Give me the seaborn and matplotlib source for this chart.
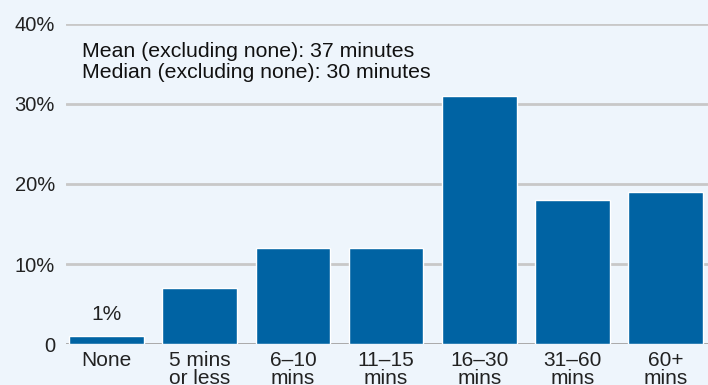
import matplotlib
matplotlib.use("Agg")
import matplotlib.pyplot as plt
import seaborn as sns
import pandas as pd

categories = ["None", "5 mins\nor less", "6\u201310\nmins", "11\u201315\nmins",
              "16\u201330\nmins", "31\u201360\nmins", "60+\nmins"]
shares = [1, 7, 12, 12, 31, 18, 19]
y_ticks = [0, 10, 20, 30, 40]
y_tick_labels = ["0", "10%", "20%", "30%", "40%"]
notes = ["Mean (excluding none): 37 minutes", "Median (excluding none): 30 minutes"]

bg = "#eef5fc"
bar_color = "#0063a3"

sns.set_theme(style="white")
plt.rcParams["font.family"] = ["Liberation Sans", "DejaVu Sans"]

df = pd.DataFrame({"category": categories, "share": shares})

fig = plt.figure(figsize=(7.08, 3.85), dpi=100, facecolor=bg)
ax = fig.add_axes([66 / 708, 1 - 344 / 385, 642 / 708, 320 / 385])
ax.set_facecolor(bg)

sns.barplot(data=df, x="category", y="share", color=bar_color, width=0.8,
            saturation=1, ax=ax, zorder=3)

ax.set_ylim(0, 40)
ax.set_xlim(-0.435, 6.455)
ax.set_yticks(y_ticks)
ax.set_yticklabels(y_tick_labels)
ax.yaxis.grid(True, color="#c8c8c8", linewidth=2, zorder=0)
ax.set_axisbelow(True)
for s in ax.spines.values():
    s.set_visible(False)
ax.axhline(0, color="#a8a8a8", linewidth=2, zorder=2)

ax.tick_params(axis="y", length=0, pad=8, labelsize=14.5, labelcolor="#222222")
ax.tick_params(axis="x", length=0, pad=5, labelsize=15, labelcolor="#222222")
for lbl in ax.get_xticklabels():
    lbl.set_linespacing(0.92)
ax.set_xlabel("")
ax.set_ylabel("")

# value label on the smallest bar
ax.text(0, shares[0] + 1.5, f"{shares[0]}%", ha="center", va="bottom",
        fontsize=15, color="#222222")

ax.text(0.025, 0.915, notes[0], transform=ax.transAxes, ha="left", va="center",
        fontsize=15.3, color="#111111")
ax.text(0.025, 0.847, notes[1], transform=ax.transAxes, ha="left", va="center",
        fontsize=15.3, color="#111111")

fig.savefig("out.png", dpi=100, facecolor=bg)
